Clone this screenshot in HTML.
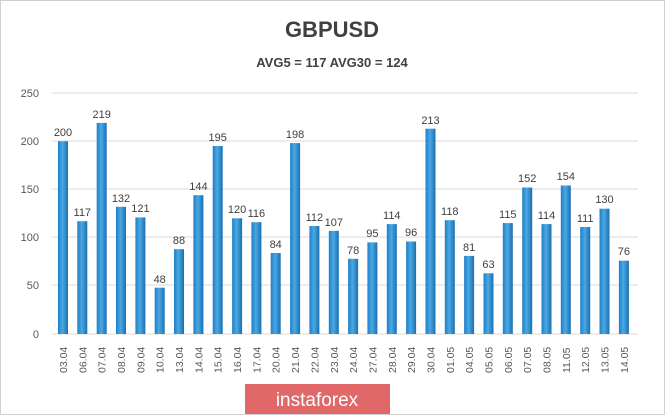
<!DOCTYPE html><html><head><style>body{margin:0;background:#fff}svg{display:block}</style></head><body>
<svg width="665" height="415" xmlns="http://www.w3.org/2000/svg" font-family="Liberation Sans, sans-serif">
<defs><linearGradient id="g" x1="0" x2="1"><stop offset="0" stop-color="#1f7fc4"/><stop offset="0.45" stop-color="#4aa8e4"/><stop offset="1" stop-color="#1a6fb0"/></linearGradient></defs>
<rect x="0.5" y="0.5" width="664" height="414" fill="#fff" stroke="#d0d0d0"/>
<text x="332" y="37" text-anchor="middle" font-size="22" font-weight="bold" fill="#404040">GBPUSD</text>
<text x="332" y="67" text-anchor="middle" font-size="13" font-weight="bold" fill="#404040">AVG5 = 117 AVG30 = 124</text>
<g stroke="#d9d9d9" stroke-width="1">
<line x1="52" x2="638" y1="93" y2="93"/><line x1="52" x2="638" y1="141" y2="141"/><line x1="52" x2="638" y1="189" y2="189"/><line x1="52" x2="638" y1="237" y2="237"/><line x1="52" x2="638" y1="285" y2="285"/><line x1="52" x2="638" y1="334" y2="334"/></g>
<g font-size="11" fill="#595959" text-anchor="end">
<text x="39" y="97">250</text><text x="39" y="145">200</text><text x="39" y="193">150</text><text x="39" y="241">100</text><text x="39" y="289">50</text><text x="39" y="338">0</text></g>
<g fill="url(#g)">
<rect x="58" y="141.2" width="10" height="192.8"/>
<rect x="77.3" y="221.2" width="10" height="112.8"/>
<rect x="96.7" y="122.9" width="10" height="211.1"/>
<rect x="116" y="206.8" width="10" height="127.2"/>
<rect x="135.4" y="217.4" width="10" height="116.6"/>
<rect x="154.7" y="287.7" width="10" height="46.3"/>
<rect x="174" y="249.2" width="10" height="84.8"/>
<rect x="193.4" y="195.2" width="10" height="138.8"/>
<rect x="212.7" y="146" width="10" height="188"/>
<rect x="232.1" y="218.3" width="10" height="115.7"/>
<rect x="251.4" y="222.2" width="10" height="111.8"/>
<rect x="270.7" y="253" width="10" height="81"/>
<rect x="290.1" y="143.1" width="10" height="190.9"/>
<rect x="309.4" y="226" width="10" height="108"/>
<rect x="328.8" y="230.9" width="10" height="103.1"/>
<rect x="348.1" y="258.8" width="10" height="75.2"/>
<rect x="367.4" y="242.4" width="10" height="91.6"/>
<rect x="386.8" y="224.1" width="10" height="109.9"/>
<rect x="406.1" y="241.5" width="10" height="92.5"/>
<rect x="425.5" y="128.7" width="10" height="205.3"/>
<rect x="444.8" y="220.2" width="10" height="113.8"/>
<rect x="464.1" y="255.9" width="10" height="78.1"/>
<rect x="483.5" y="273.3" width="10" height="60.7"/>
<rect x="502.8" y="223.1" width="10" height="110.9"/>
<rect x="522.2" y="187.5" width="10" height="146.5"/>
<rect x="541.5" y="224.1" width="10" height="109.9"/>
<rect x="560.8" y="185.5" width="10" height="148.5"/>
<rect x="580.2" y="227" width="10" height="107"/>
<rect x="599.5" y="208.7" width="10" height="125.3"/>
<rect x="618.9" y="260.7" width="10" height="73.3"/>
</g>
<g font-size="11" fill="#404040" text-anchor="middle">
<text x="63" y="136">200</text>
<text x="82.3" y="216">117</text>
<text x="101.7" y="118">219</text>
<text x="121" y="202">132</text>
<text x="140.4" y="212">121</text>
<text x="159.7" y="283">48</text>
<text x="179" y="244">88</text>
<text x="198.4" y="190">144</text>
<text x="217.7" y="141">195</text>
<text x="237.1" y="213">120</text>
<text x="256.4" y="217">116</text>
<text x="275.7" y="248">84</text>
<text x="295.1" y="138">198</text>
<text x="314.4" y="221">112</text>
<text x="333.8" y="226">107</text>
<text x="353.1" y="254">78</text>
<text x="372.4" y="237">95</text>
<text x="391.8" y="219">114</text>
<text x="411.1" y="236">96</text>
<text x="430.5" y="124">213</text>
<text x="449.8" y="215">118</text>
<text x="469.1" y="251">81</text>
<text x="488.5" y="268">63</text>
<text x="507.8" y="218">115</text>
<text x="527.2" y="182">152</text>
<text x="546.5" y="219">114</text>
<text x="565.8" y="180">154</text>
<text x="585.2" y="222">111</text>
<text x="604.5" y="203">130</text>
<text x="623.9" y="255">76</text>
</g>
<g font-size="10.5" fill="#595959">
<text transform="translate(67,373) rotate(-90)">03.04</text>
<text transform="translate(86.3,373) rotate(-90)">06.04</text>
<text transform="translate(105.7,373) rotate(-90)">07.04</text>
<text transform="translate(125,373) rotate(-90)">08.04</text>
<text transform="translate(144.4,373) rotate(-90)">09.04</text>
<text transform="translate(163.7,373) rotate(-90)">10.04</text>
<text transform="translate(183,373) rotate(-90)">13.04</text>
<text transform="translate(202.4,373) rotate(-90)">14.04</text>
<text transform="translate(221.7,373) rotate(-90)">15.04</text>
<text transform="translate(241.1,373) rotate(-90)">16.04</text>
<text transform="translate(260.4,373) rotate(-90)">17.04</text>
<text transform="translate(279.7,373) rotate(-90)">20.04</text>
<text transform="translate(299.1,373) rotate(-90)">21.04</text>
<text transform="translate(318.4,373) rotate(-90)">22.04</text>
<text transform="translate(337.8,373) rotate(-90)">23.04</text>
<text transform="translate(357.1,373) rotate(-90)">24.04</text>
<text transform="translate(376.4,373) rotate(-90)">27.04</text>
<text transform="translate(395.8,373) rotate(-90)">28.04</text>
<text transform="translate(415.1,373) rotate(-90)">29.04</text>
<text transform="translate(434.5,373) rotate(-90)">30.04</text>
<text transform="translate(453.8,373) rotate(-90)">01.05</text>
<text transform="translate(473.1,373) rotate(-90)">04.05</text>
<text transform="translate(492.5,373) rotate(-90)">05.05</text>
<text transform="translate(511.8,373) rotate(-90)">06.05</text>
<text transform="translate(531.2,373) rotate(-90)">07.05</text>
<text transform="translate(550.5,373) rotate(-90)">08.05</text>
<text transform="translate(569.8,373) rotate(-90)">11.05</text>
<text transform="translate(589.2,373) rotate(-90)">12.05</text>
<text transform="translate(608.5,373) rotate(-90)">13.05</text>
<text transform="translate(627.9,373) rotate(-90)">14.05</text>
</g>
<rect x="245" y="384" width="145" height="30" fill="#e06868"/>
<text x="317" y="406" text-anchor="middle" font-size="19" fill="#fff">instaforex</text>
</svg></body></html>
